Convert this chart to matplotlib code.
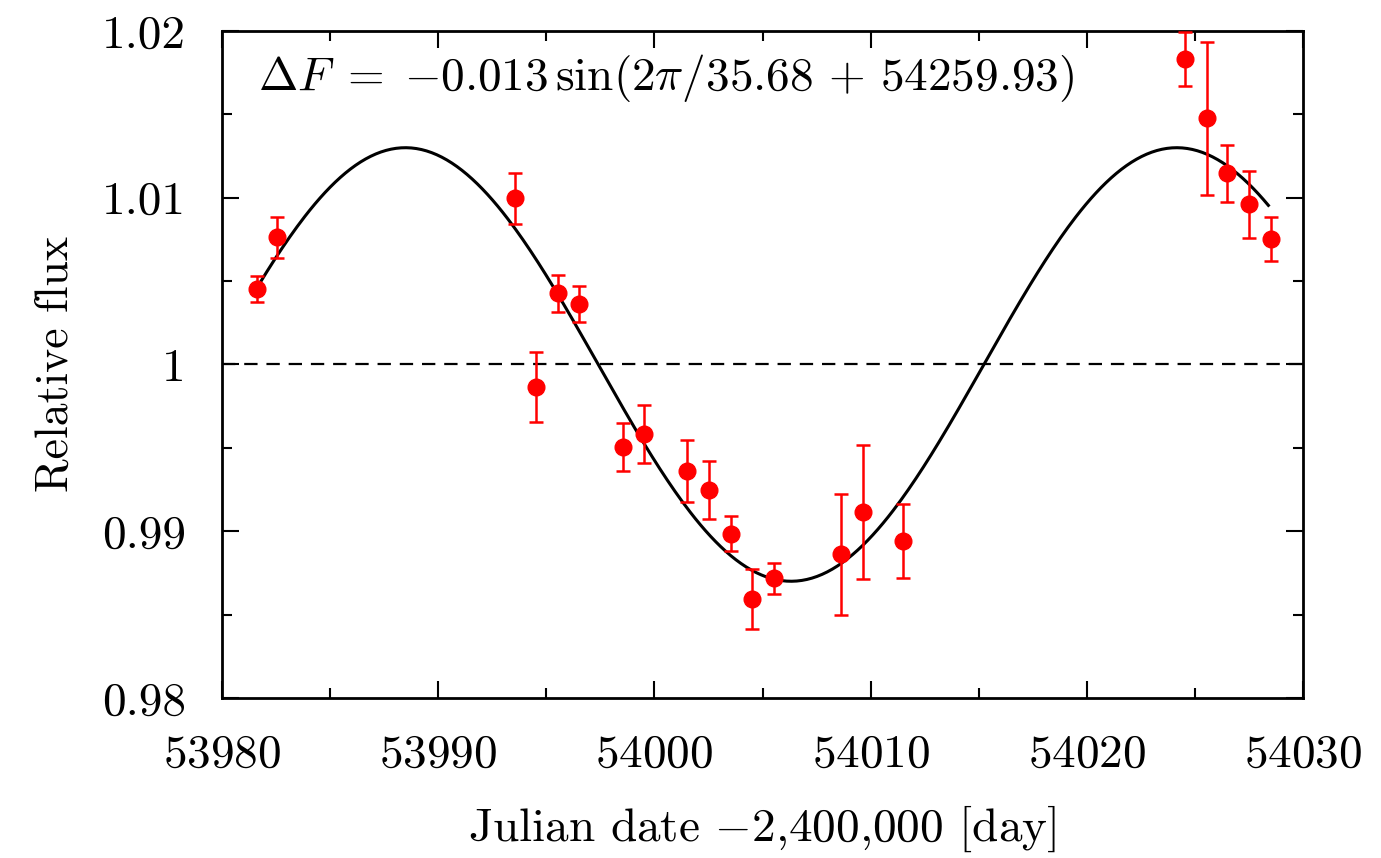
import matplotlib
matplotlib.use('Agg')
import matplotlib.pyplot as plt
import numpy as np

# observed relative flux (JD - 2,400,000)
jd = [53981.6, 53982.53, 53993.54, 53994.52, 53995.54, 53996.53, 53998.53, 53999.53,
      54001.52, 54002.53, 54003.53, 54004.53, 54005.53, 54008.63, 54009.63, 54011.51,
      54024.53, 54025.55, 54026.5, 54027.5, 54028.5]
flux = [1.00451, 1.00763, 1.00997, 0.99863, 1.00427, 1.00363, 0.99507, 0.99583,
        0.9936, 0.99249, 0.98985, 0.98594, 0.98718, 0.98862, 0.99117, 0.9894,
        1.0183, 1.01476, 1.01146, 1.00961, 1.00753]
err = [0.00077, 0.00122, 0.00154, 0.00209, 0.00111, 0.00108, 0.00145, 0.00176,
       0.00185, 0.00173, 0.00106, 0.00182, 0.00092, 0.00363, 0.00403, 0.00223,
       0.00162, 0.0046, 0.00172, 0.002, 0.00132]

# fitted sinusoid
amp = 0.013
period = 35.68
t_zero = 53997.4  # descending crossing of 1.0
fit_start, fit_end = 53981.6, 54028.4

plt.rcParams['font.family'] = 'serif'
plt.rcParams['font.serif'] = ['cmr10', 'DejaVu Serif']
plt.rcParams['mathtext.fontset'] = 'cm'
plt.rcParams['axes.formatter.use_mathtext'] = True

fig = plt.figure(figsize=(13.81, 8.58), dpi=100)
ax = fig.add_axes([0.1608, 0.1865, 0.7827, 0.7774])

t = np.linspace(fit_start, fit_end, 400)
ax.plot(t, 1 - amp * np.sin(2 * np.pi * (t - t_zero) / period), color='black', lw=2.2, zorder=2)
ax.axhline(1.0, color='black', lw=1.6, dashes=(6, 4), zorder=1)
ax.errorbar(jd, flux, yerr=err, fmt='o', color='#ff0000', markersize=12,
            elinewidth=1.8, capsize=5, capthick=1.8, zorder=3)

ax.set_xlim(53980, 54030)
ax.set_ylim(0.98, 1.02)
ax.set_xticks(np.arange(53980, 54031, 10))
ax.set_xticks(np.arange(53985, 54030, 10), minor=True)
ax.set_yticks([0.98, 0.99, 1.0, 1.01, 1.02])
ax.set_yticklabels(['0.98', '0.99', '1', '1.01', '1.02'])
ax.set_yticks([0.985, 0.995, 1.005, 1.015], minor=True)
ax.tick_params(which='both', direction='in', top=True, right=True, width=1.5, labelsize=34, pad=26)
ax.tick_params(which='major', length=12)
ax.tick_params(which='minor', length=7)
for s in ax.spines.values():
    s.set_linewidth(2)

ax.set_xlabel('Julian date $-$2,400,000 [day]', fontsize=34, labelpad=20)
ax.set_ylabel('Relative flux', fontsize=33, labelpad=18)
ax.text(0.033, 0.93, r'$\Delta F\;=\;{-}0.013\,\sin(2\pi/35.68\,+\,54259.93)$',
        transform=ax.transAxes, fontsize=34, va='center', ha='left')

plt.savefig('out.png', dpi=100)
